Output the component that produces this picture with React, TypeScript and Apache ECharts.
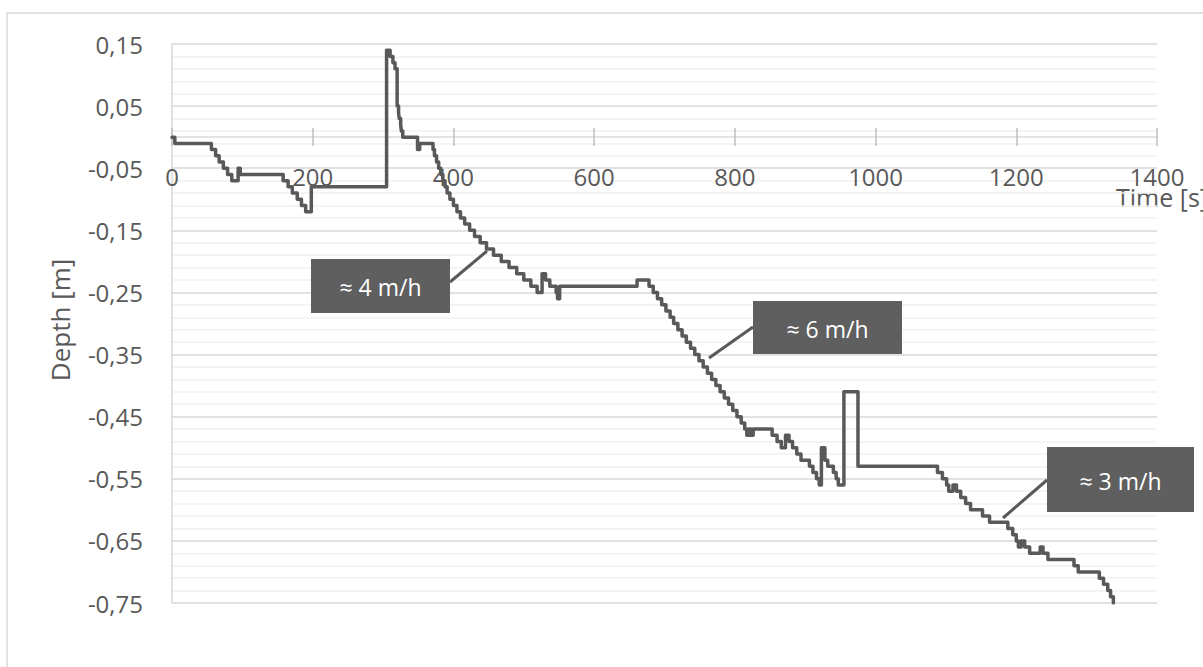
import React, { useEffect, useRef } from "react";
import * as echarts from "echarts";

// Change points (time [s], depth [m]); the value holds until the next time.
const times: number[] = [
  0, 4, 56, 62, 67, 73, 79, 85, 94, 97, 158, 165, 171, 178, 184, 190, 198,
  305, 310, 314, 317, 320, 322, 323, 325, 326, 328, 349, 352,
  371, 373, 376, 379, 382, 385, 388, 391, 395, 400, 405, 410, 416, 423, 430, 438, 447, 457, 468, 479, 490, 500, 510, 519,
  526, 531, 537, 546, 548, 551, 661,
  678, 684, 690, 696, 702, 708, 713, 719, 725, 731, 737, 743, 749, 755, 761, 767, 773, 779, 785, 791, 797, 803, 809, 814,
  817, 820, 823, 826, 853, 860, 866, 872, 877, 882, 888, 894, 906, 911, 916, 920, 923, 928, 932, 940, 944, 947, 955, 975,
  1088, 1095, 1101, 1104, 1110, 1115, 1121, 1128, 1135, 1152, 1162,
  1188, 1195, 1200, 1203, 1207, 1212, 1219, 1234, 1238, 1245, 1282, 1288, 1318, 1324, 1330, 1334, 1338, 1339,
];
const depths: number[] = [
  0, -0.01, -0.02, -0.03, -0.04, -0.05, -0.06, -0.07, -0.05, -0.06, -0.07, -0.08, -0.09, -0.1, -0.11, -0.12, -0.08,
  0.14, 0.13, 0.12, 0.11, 0.05, 0.04, 0.03, 0.02, 0.01, 0, -0.02, -0.01,
  -0.02, -0.03, -0.04, -0.05, -0.06, -0.07, -0.08, -0.09, -0.1, -0.11, -0.12, -0.13, -0.14, -0.15, -0.16, -0.17, -0.18, -0.19, -0.2, -0.21, -0.22, -0.23, -0.24, -0.25,
  -0.22, -0.23, -0.24, -0.25, -0.26, -0.24, -0.23,
  -0.24, -0.25, -0.26, -0.27, -0.28, -0.29, -0.3, -0.31, -0.32, -0.33, -0.34, -0.35, -0.36, -0.37, -0.38, -0.39, -0.4, -0.41, -0.42, -0.43, -0.44, -0.45, -0.46, -0.47,
  -0.48, -0.47, -0.48, -0.47, -0.48, -0.49, -0.5, -0.48, -0.49, -0.5, -0.51, -0.52, -0.53, -0.54, -0.55, -0.56, -0.5, -0.52, -0.53, -0.54, -0.55, -0.56, -0.41, -0.53,
  -0.54, -0.55, -0.56, -0.57, -0.56, -0.57, -0.58, -0.59, -0.6, -0.61, -0.62,
  -0.63, -0.64, -0.65, -0.66, -0.65, -0.66, -0.67, -0.66, -0.67, -0.68, -0.69, -0.7, -0.71, -0.72, -0.73, -0.74, -0.75, -0.75,
];

const X_MIN = 0;
const X_MAX = 1400;
const X_STEP = 200;
const Y_MIN = -0.75;
const Y_MAX = 0.15;
const Y_STEP = 0.1;

const annotationTexts: string[] = ["≈ 4 m/h", "≈ 6 m/h", "≈ 3 m/h"];
const xTitle = "Time [s]";
const yTitle = "Depth [m]";

const FONT = "'Open Sans', 'Noto Sans', sans-serif";
const GREY = "#595959";

const GRID_TOP = 44;
const GRID_HEIGHT = 559;

export default function App() {
  const ref = useRef<HTMLDivElement>(null);
  useEffect(() => {
    if (!ref.current) return;
    const chart = echarts.init(ref.current, undefined, { renderer: "svg" });
    const data = times.map((t, i) => [t, depths[i]]);
    // x axis sits at depth 0: shift it up from the grid bottom by the fraction of the range below zero
    const zeroOffset = -Math.round(GRID_HEIGHT * ((0 - Y_MIN) / (Y_MAX - Y_MIN)));
    const boxes = [
      { x: 311, y: 259, w: 139, h: 54, line: [450, 282, 487, 251] },
      { x: 753, y: 301, w: 149, h: 53, line: [753, 327, 709, 358] },
      { x: 1047, y: 447, w: 147, h: 65, line: [1047, 480, 1003, 518] },
    ];
    const graphics: any[] = [
      {
        type: "rect",
        shape: { x: 7, y: 13, width: 1400, height: 800 },
        style: { fill: "none", stroke: "#d9d9d9", lineWidth: 1.5 },
        silent: true,
        z: 0,
      },
      {
        type: "text",
        x: 60,
        y: 320,
        rotation: Math.PI / 2,
        style: {
          text: yTitle,
          fontFamily: FONT,
          fontSize: 26,
          fill: GREY,
          textAlign: "center",
          textVerticalAlign: "middle",
        },
      },
      {
        type: "text",
        x: 1116,
        y: 197,
        style: {
          text: xTitle,
          fontFamily: FONT,
          fontSize: 25,
          fill: GREY,
          textAlign: "left",
          textVerticalAlign: "middle",
        },
      },
    ];
    boxes.forEach((b, i) => {
      graphics.push({
        type: "line",
        shape: { x1: b.line[0], y1: b.line[1], x2: b.line[2], y2: b.line[3] },
        style: { stroke: GREY, lineWidth: 3 },
        z: 10,
      });
      graphics.push({
        type: "rect",
        shape: { x: b.x, y: b.y, width: b.w, height: b.h },
        style: { fill: "#5f5f5f" },
        z: 11,
      });
      graphics.push({
        type: "text",
        x: b.x + b.w / 2,
        y: b.y + b.h / 2 + 1,
        style: {
          text: annotationTexts[i],
          fontFamily: FONT,
          fontSize: 23,
          fill: "#ffffff",
          textAlign: "center",
          textVerticalAlign: "middle",
        },
        z: 12,
      });
    });

    chart.setOption({
      animation: false,
      grid: { left: 172, top: GRID_TOP, right: 46, height: GRID_HEIGHT, containLabel: false },
      xAxis: [
        {
          type: "value",
          min: X_MIN,
          max: X_MAX,
          interval: X_STEP,
          position: "bottom",
          offset: zeroOffset,
          axisLine: { show: true, onZero: false, lineStyle: { color: "#d9d9d9", width: 1.5 } },
          axisTick: { show: true, length: 9, lineStyle: { color: "#bfbfbf", width: 1.5 } },
          axisLabel: {
            margin: 27,
            fontFamily: FONT,
            fontSize: 24,
            color: GREY,
            formatter: (v: number) => String(v),
          },
          splitLine: { show: false },
        },
        {
          type: "value",
          min: X_MIN,
          max: X_MAX,
          interval: X_STEP,
          position: "bottom",
          offset: zeroOffset,
          axisLine: { show: false, onZero: false },
          axisTick: { show: true, inside: true, length: 9, lineStyle: { color: "#bfbfbf", width: 1.5 } },
          axisLabel: { show: false },
          splitLine: { show: false },
        },
      ],
      yAxis: {
        type: "value",
        min: Y_MIN,
        max: Y_MAX,
        interval: Y_STEP,
        axisLine: { show: true, onZero: false, lineStyle: { color: "#d9d9d9", width: 1.5 } },
        axisTick: { show: false },
        axisLabel: {
          margin: 29,
          fontFamily: FONT,
          fontSize: 24,
          color: GREY,
          formatter: (v: number) => v.toFixed(2).replace(".", ","),
        },
        splitLine: { show: true, lineStyle: { color: "#d9d9d9", width: 1.5 } },
        minorTick: { show: false, splitNumber: 5 },
        minorSplitLine: { show: true, lineStyle: { color: "#f0f0f0", width: 1.5 } },
      },
      series: [
        {
          type: "line",
          data,
          step: "end",
          showSymbol: false,
          symbol: "none",
          lineStyle: { color: GREY, width: 3.5, cap: "round", join: "round" },
          z: 5,
        },
      ],
      graphic: graphics,
    });
    return () => chart.dispose();
  }, []);
  return (
    <div
      ref={ref}
      style={{ position: "absolute", left: 0, top: 0, width: 1203, height: 667, background: "#ffffff" }}
    />
  );
}
